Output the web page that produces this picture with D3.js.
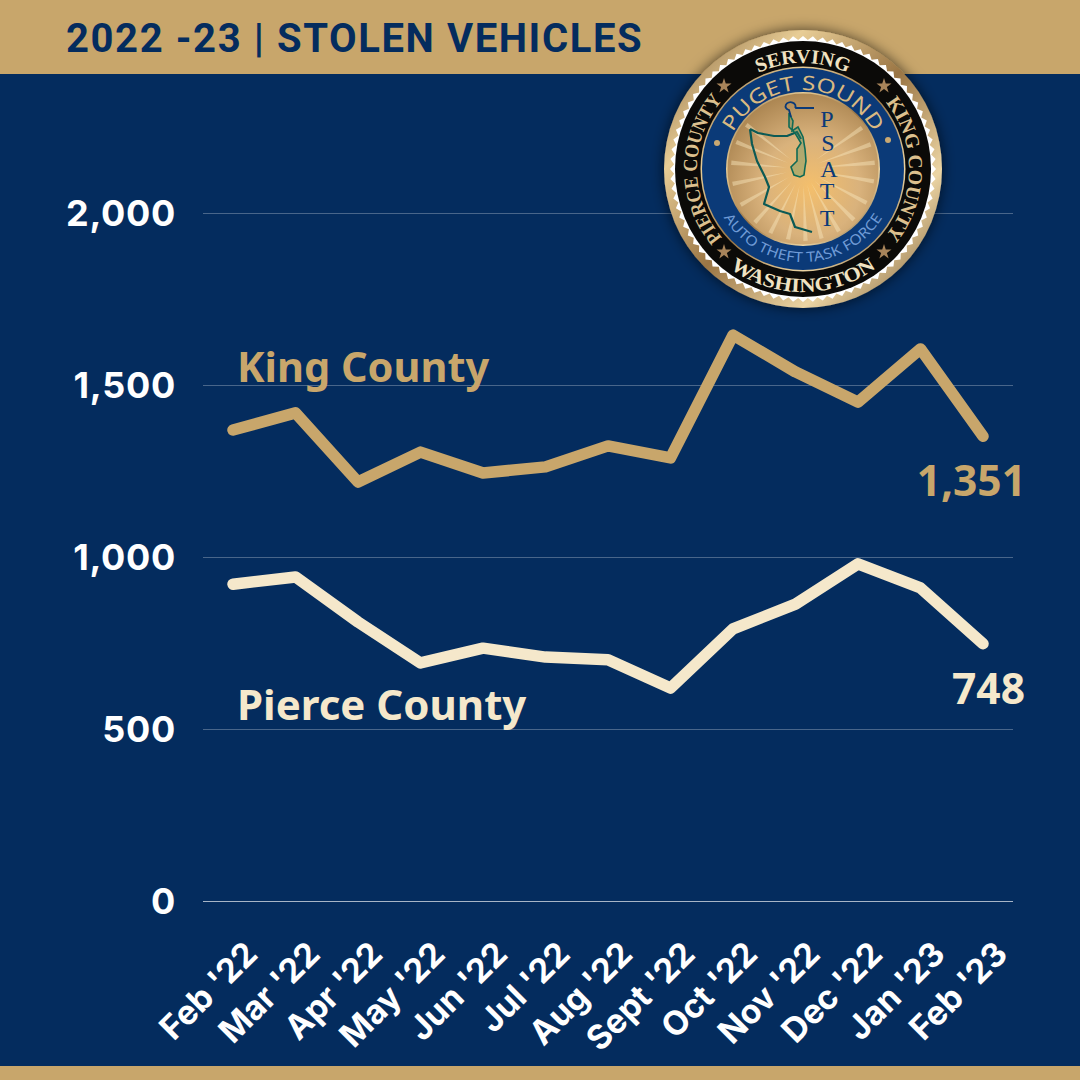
<!DOCTYPE html>
<html>
<head>
<meta charset="utf-8">
<script src="https://cdn.jsdelivr.net/npm/d3@7"></script>
<style>
html, body { margin: 0; padding: 0; background: #042c5e; }
svg { display: block; }
</style>
</head>
<body>
<svg id="chart" width="1080" height="1080"></svg>
<script>
var months = ["Feb '22", "Mar '22", "Apr '22", "May '22", "Jun '22", "Jul '22", "Aug '22", "Sept '22", "Oct '22", "Nov '22", "Dec '22", "Jan '23", "Feb '23"]
var king = [1369, 1419, 1218, 1305, 1244, 1262, 1323, 1288, 1645, 1538, 1450, 1605, 1351]
var pierce = [921, 942, 811, 692, 735, 709, 701, 619, 791, 863, 980, 910, 748]
var yTicks = [0, 500, 1000, 1500, 2000]

var navy = "#042c5e", tan = "#c8a66b", cream = "#f5e8cb"

var svg = d3.select("#chart")
var defs = svg.append("defs")

svg.append("rect").attr("width", 1080).attr("height", 1080).attr("fill", navy)
svg.append("rect").attr("width", 1080).attr("height", 74).attr("fill", tan)
svg.append("rect").attr("y", 1066).attr("width", 1080).attr("height", 14).attr("fill", tan)

svg.append("text").attr("x", 66).attr("y", 52)
  .attr("font-family", "Roboto").attr("font-weight", 700).attr("font-size", 40)
  .attr("letter-spacing", 1.6).attr("fill", navy)
  .text("2022 -23 | STOLEN VEHICLES")

var x = d3.scalePoint().domain(months).range([233, 983])
var y = d3.scaleLinear().domain([0, 2000]).range([901, 213])

// gridlines + labels
var yAxis = d3.axisLeft(y).tickValues(yTicks).tickSize(-810).tickPadding(27).tickFormat(d3.format(","))
var gy = svg.append("g").attr("transform", "translate(203,0)").call(yAxis)
gy.select(".domain").remove()
gy.selectAll("line").attr("stroke", "#fff").attr("stroke-width", 1)
  .attr("stroke-opacity", function(d) { return d == 0 ? 0.65 : 0.28 })
gy.selectAll("text").attr("fill", "#fff").attr("dy", "0.36em")
  .attr("font-family", "Inter").attr("font-weight", 700).attr("font-size", 36)
  .attr("letter-spacing", 0.7)

var xAxis = d3.axisBottom(x).tickSize(0).tickPadding(0)
var gx = svg.append("g").attr("transform", "translate(0,901)").call(xAxis)
gx.select(".domain").remove()
gx.selectAll("text").attr("fill", "#fff")
  .attr("font-family", "Inter").attr("font-weight", 700).attr("font-size", 33.5)
  .attr("text-anchor", "end")
  .attr("dy", 0)
  .attr("transform", "translate(26,55) rotate(-45)")

var line = d3.line().x(function(d, i) { return x(months[i]) }).y(function(d) { return y(d) })

function label(txt, px, py, col, anchor, size) {
  svg.append("text").attr("x", px).attr("y", py).attr("fill", col)
    .attr("text-anchor", anchor)
    .attr("font-family", "Noto Sans").attr("font-weight", 700).attr("font-size", size)
    .text(txt)
}
label("King County", 237, 382, tan, "start", 41.5)
label("Pierce County", 237, 720, cream, "start", 42)
label(d3.format(",")(king[12]), 1026, 496, tan, "end", 42.5)
label(d3.format(",")(pierce[12]), 1025, 704, cream, "end", 42.5)

function drawSeries(vals, col) {
  svg.append("path").datum(vals).attr("d", line)
    .attr("fill", "none").attr("stroke", col).attr("stroke-width", 11.5)
    .attr("stroke-linejoin", "round").attr("stroke-linecap", "round")
}
drawSeries(king, tan)
drawSeries(pierce, cream)

// badge
var badge = svg.append("g").attr("transform", "translate(803,169)")

var f = defs.append("filter").attr("id", "shadow").attr("x", "-20%").attr("y", "-20%").attr("width", "140%").attr("height", "140%")
f.append("feDropShadow").attr("dx", 0).attr("dy", 0).attr("stdDeviation", 7).attr("flood-color", "#000").attr("flood-opacity", 0.65)

var rim = defs.append("linearGradient").attr("id", "rim").attr("x1", 0).attr("y1", 0).attr("x2", 1).attr("y2", 1)
rim.append("stop").attr("offset", 0).attr("stop-color", "#7d5c33")
rim.append("stop").attr("offset", 0.25).attr("stop-color", "#e8cd96")
rim.append("stop").attr("offset", 0.5).attr("stop-color", "#9a7544")
rim.append("stop").attr("offset", 0.75).attr("stop-color", "#ecd5a4")
rim.append("stop").attr("offset", 1).attr("stop-color", "#6f5029")

var gold = defs.append("radialGradient").attr("id", "gold").attr("cx", 0.55).attr("cy", 0.62).attr("r", 0.65)
gold.append("stop").attr("offset", 0).attr("stop-color", "#f4bf6c")
gold.append("stop").attr("offset", 0.5).attr("stop-color", "#d9b27c")
gold.append("stop").attr("offset", 1).attr("stop-color", "#a9834f")

badge.append("circle").attr("r", 139).attr("fill", "url(#rim)").attr("filter", "url(#shadow)")

// white serrated ring
var teeth = d3.range(0, 168).map(function(i) { return [i * Math.PI / 84, i % 2 ? 129 : 133] })
badge.append("path").attr("d", d3.lineRadial().curve(d3.curveLinearClosed)(teeth)).attr("fill", "#fff")

badge.append("circle").attr("r", 128).attr("fill", "#0b0a08")
badge.append("circle").attr("r", 102.5).attr("fill", "url(#rim)")
badge.append("circle").attr("r", 101).attr("fill", "#0b3a78")
badge.append("circle").attr("r", 77).attr("fill", "url(#rim)")
badge.append("circle").attr("r", 75.5).attr("fill", "url(#gold)")

// sun rays in the medallion, degrees clockwise from up
var rayAngles = [55, 70, 85, 100, 118, 135, 150, 165, 178, 192, 207, 222, 240, 258, 275, 292, 308]
rayAngles.forEach(function(a) {
  var r = a * Math.PI / 180
  var tip = [16 * Math.sin(r), -16 * Math.cos(r)]
  var e1 = [72 * Math.sin(r - 0.03), -72 * Math.cos(r - 0.03)]
  var e2 = [72 * Math.sin(r + 0.03), -72 * Math.cos(r + 0.03)]
  badge.append("path").attr("d", d3.line()([tip, e1, e2]) + "Z")
    .attr("fill", "#f9e6bd").attr("opacity", 0.45)
})

// ring text goes on circular paths
function ringPath(id, r, sweep) {
  var p = sweep
    ? "M 0 " + r + " A " + r + " " + r + " 0 1 1 0 " + (-r) + " A " + r + " " + r + " 0 1 1 0 " + r
    : "M 0 " + (-r) + " A " + r + " " + r + " 0 1 0 0 " + r + " A " + r + " " + r + " 0 1 0 0 " + (-r)
  defs.append("path").attr("id", id).attr("d", p)
}
ringPath("ringTop", 106, true)
ringPath("ringBottom", 123, false)
ringPath("innerTop", 79, true)
ringPath("innerBottom", 93, false)

function ringText(path, txt, offset, size, col, fam, weight, len) {
  badge.append("text").attr("fill", col).attr("font-family", fam).attr("font-size", size).attr("font-weight", weight)
    .attr("text-anchor", "middle")
    .append("textPath").attr("href", "#" + path).attr("startOffset", offset)
    .attr("textLength", len).attr("lengthAdjust", "spacingAndGlyphs").text(txt)
}
ringText("ringTop", "SERVING", "50%", 20, "#f0e2c2", "Liberation Serif", 700, 92)
ringText("ringTop", "PIERCE COUNTY", "25%", 20, "#dcc08e", "Liberation Serif", 700, 150)
ringText("ringTop", "KING COUNTY", "75%", 20, "#dcc08e", "Liberation Serif", 700, 144)
ringText("ringBottom", "WASHINGTON", "50%", 20, "#f0e2c2", "Liberation Serif", 700, 157)
ringText("innerTop", "PUGET SOUND", "50%", 20, "#d9b981", "Noto Sans", 400, 172)
ringText("innerBottom", "AUTO THEFT TASK FORCE", "50%", 14, "#6f9bd6", "Noto Sans", 400, 190)

// stars and dots
var stars = [[-79, -83], [81, -83], [-79, 83], [81, 83]]
stars.forEach(function(s) {
  badge.append("path").attr("transform", "translate(" + s[0] + "," + s[1] + ")")
    .attr("d", d3.symbol().type(d3.symbolStar).size(70)()).attr("fill", "#a8845a")
})
;[[-86, -26], [85, -29]].forEach(function(s) {
  badge.append("circle").attr("cx", s[0]).attr("cy", s[1]).attr("r", 3).attr("fill", "#c9a872")
})

// state outline
var coast = "M -53 -40 L -51 -25 L -46 -8 L -38 8 L -34 18 L -39 35 L -23 42 L -13 45 L -8 58 L 9 63 M -53 -40 L -45 -36 L -29 -33 L -16 -33 L -6 -37 L -2 -30"
badge.append("path").attr("d", coast).attr("fill", "none").attr("stroke", "#0c5a55").attr("stroke-width", 2.2).attr("stroke-linejoin", "round")
var sound = "M -14 -56 L -10 -48 L -11 -38 L -5 -42 L 0 -32 L 2 -20 L 3 -8 L 2 -2 L 1 6 L -3 8 L -9 6 L -12 -2 L -6 -8 L -6 -20 L -2 -26 L -8 -36 L -14 -42 Z"
badge.append("path").attr("d", sound).attr("fill", "#3e8a5c").attr("fill-opacity", 0.3).attr("stroke", "#0f6a55").attr("stroke-width", 1.6)
badge.append("path").attr("d", "M 11 -61 L -8 -61 M -8 -61 A 5 4 0 1 0 -14 -59 L -12 -52").attr("fill", "none").attr("stroke", "#0b3a78").attr("stroke-width", 1.8)

var psatt = ["P", "S", "A", "T", "T"]
var letterY = [-42, -18, 8, 30, 57]
var letterX = [24, 25, 26, 24, 24]
psatt.forEach(function(c, i) {
  badge.append("text").attr("x", letterX[i]).attr("y", letterY[i]).attr("text-anchor", "middle")
    .attr("font-family", "Liberation Serif").attr("font-size", 24).attr("fill", "#0b3a78").text(c)
})
</script>
</body>
</html>
